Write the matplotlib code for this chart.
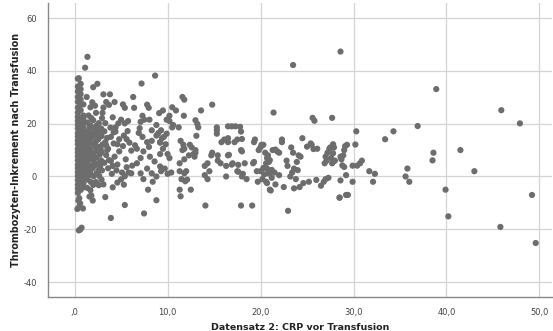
import matplotlib
matplotlib.use("Agg")
import matplotlib.pyplot as plt

# ---- data: (CRP, increment) ----
# dense column near CRP ~ 0.3-1.0
col_x = ([0.35]*27 + [0.65]*25 + [0.95]*20)
col_y = ([-6.2,-4.6,-3.1,-1.4,0.2,1.6,3.1,4.4,6.1,7.6,9.1,10.4,12.2,13.6,15.1,16.4,18.2,19.6,21.1,22.6,24.2,26.1,28.3,30.1,32.2,34.1,37.0] +
         [-5.1,-3.4,-2.1,-0.6,1.1,2.4,4.1,5.6,7.1,8.4,10.2,11.6,13.1,14.4,16.2,17.6,19.1,20.4,22.2,25.1,27.2,29.1,31.2,33.1,35.1] +
         [-4.1,-2.6,-1.1,0.6,2.1,3.6,5.1,6.4,8.2,9.6,11.1,12.4,14.1,15.6,17.1,18.4,20.1,21.6,23.1,27.3])

tail_x = [0.5, 0.4, 0.6, 0.5, 0.9, 0.3, 0.6, 0.75, 0.45, 1.38, 1.13, 0.45, 1.8, 1.95, 1.6]
tail_y = [-8.2, -9.1, -10.2, -11.4, -12.1, -12.3, -20.1, -19.4, -20.4, 45.3, 41.2, 37.2, -7.2, -9.1, -7.6]

low_x = [1.35,1.4,1.45,1.3,1.5,1.4,1.35,1.45,1.4,1.5,1.3,
         1.7,1.75,1.65,1.7,1.8,1.7,1.65,1.75,1.7,1.8,1.7,
         2.0,2.05,1.95,2.0,2.1,2.0,1.95,2.05,2.0,1.9,2.0,
         2.3,2.35,2.25,2.3,2.4,2.3,2.25,2.35,2.3,2.45,
         2.6,2.65,2.55,2.6,2.7,2.6,2.55,2.65,2.6,2.2,
         2.9,2.95,2.85,2.9,3.0,2.9,2.85,2.95,3.1,
         1.2,1.25,1.2,1.3,1.2,1.25,1.55,1.6,1.55,1.6,1.85,1.9,1.85,2.15,2.2,2.15,2.5,2.45,2.75,2.8,3.2,3.3,3.5,3.7,3.9,4.0,4.4,4.6,3.1,3.4]
low_y = [-4.3,-1.2,2.1,5.3,8.2,11.1,14.3,17.2,20.4,23.1,30.1,
         -5.2,-2.1,1.3,4.2,7.1,10.3,13.2,16.1,19.3,22.1,26.2,
         -3.2,0.1,3.3,6.2,9.1,12.3,15.2,18.1,21.3,28.1,33.8,
         -2.1,1.2,4.3,7.1,10.2,13.3,16.1,19.2,24.1,35.1,
         -3.3,0.2,2.2,5.1,8.3,11.2,14.1,17.3,20.2,26.8,
         -1.2,2.3,6.1,9.2,12.1,15.3,18.2,22.1,31.1,
         0.8,3.9,7.0,10.0,13.0,16.0,0.5,6.5,12.5,18.8,2.9,8.9,14.9,4.6,11.5,17.8,9.8,15.5,4.0,10.5,5.2,13.0,10.0,6.2,15.0,1.0,17.0,12.2,-3.0,11.8]

mid1_x = [3.8,3.4,3.7,4.3,3.1,5.2,5.4,3.0,3.3,3.85,3.2,4.2,4.4,4.7,5.0,5.4,5.3,4.8,4.2,3.6,3.4,4.3,4.8,5.2,5.6,5.9,6.1,5.5,4.6,4.1,3.6,4.5,5.1,5.6,5.8,5.0,5.4,6.1,3.3,4.1,3.9,5.4,5.3,4.1,3.5,3.9,4.6,5.7]
mid1_y = [31.1,28.2,27.1,28.2,26.1,27.3,26.0,24.1,20.2,18.5,17.1,16.7,18.6,20.1,21.5,20.1,15.5,14.1,12.5,10.5,8.1,7.5,9.5,11.5,14.1,12.8,9.8,6.5,4.5,4.0,3.1,2.3,1.5,3.5,1.5,-1.1,0.1,1.2,-7.8,-4.1,-15.7,-10.8,-3.1,22.4,14.6,5.9,-2.3,17.2]

mid2_x = [6.3,6.4,7.2,7.8,7.97,8.66,7.3,7.1,7.5,8.05,5.75,6.9,7.3,7.8,8.3,8.8,9.2,9.5,6.7,7.4,7.1,8.1,8.6,9.2,9.7,6.7,7.8,8.3,7.1,8.8,9.3,7.4,10.0,10.4,8.4,9.2,10.0,10.2,9.3,8.3,8.8,9.9,9.5,9.1,7.47,8.8,7.9,6.5,7.0,8.0,9.0,6.2,9.8]
mid2_y = [30.1,26.0,35.2,27.2,26.0,38.2,23.0,20.7,21.5,21.5,21.0,16.5,15.0,13.0,13.5,15.5,13.0,10.5,10.5,9.5,7.0,7.5,5.7,3.8,3.0,5.0,3.0,1.2,1.2,0.0,2.0,-1.0,1.0,1.5,-2.0,8.5,8.5,7.0,17.5,17.5,19.5,21.5,25.0,24.0,-14.0,-9.0,-5.0,11.8,18.3,11.2,16.4,4.1,12.2]

mid3_x = [10.5,10.9,10.2,10.2,11.75,10.6,10.5,11.2,9.9,9.6,9.4,9.2,11.4,11.7,11.8,11.6,12.4,12.6,13.0,13.6,12.8,13.0,12.9,12.3,11.8,11.3,11.3,11.8,12.0,11.5,11.9,12.1,11.3,11.4,12.5,14.07,14.0,14.5,14.3,14.0,14.3,14.7,14.8,15.4,15.4,15.7,16.3,16.3,16.9,17.0,17.5,17.6,16.5,16.6,17.9,18.0,17.6,18.0,18.1,18.3,18.5,17.9,19.1,11.6,11.8,13.0,13.2,13.3,13.1,14.8,15.3,15.3,15.3,16.5,16.9,17.3,17.8,17.9,15.8,16.1,16.5,16.5,17.2,17.5,18.0,19.3,19.4,19.2,19.3,19.6,19.7,19.8,20.0,20.1,20.3]
mid3_y = [26.2,25.0,23.0,21.0,23.0,19.5,18.6,18.6,16.2,15.0,14.5,12.8,13.5,12.0,10.5,10.0,12.0,11.0,10.0,25.0,8.5,9.0,7.5,8.0,6.5,5.0,2.0,1.2,2.0,-1.0,-1.8,-1.2,-5.0,-7.5,-5.0,-11.0,0.5,2.0,-1.0,4.0,5.0,8.0,9.0,8.0,6.0,5.0,0.0,4.0,4.5,5.0,2.0,1.8,8.0,8.2,10.0,9.5,4.4,0.0,1.0,5.0,-1.0,-11.0,-11.0,30.1,29.1,21.3,19.9,18.6,15.4,27.2,18.6,17.5,16.2,19.0,19.0,19.0,18.8,17.0,13.0,14.0,14.5,13.0,13.0,14.0,14.2,13.0,14.0,5.0,5.5,2.0,-2.0,10.0,11.0,12.0,12.0]

hi_x = [21.4,20.5,20.7,20.9,21.0,20.7,20.8,21.2,21.0,21.1,20.6,20.7,21.3,21.6,21.8,22.0,21.5,22.3,22.3,20.8,21.0,22.0,21.6,22.5,21.2,20.4,20.0,20.3,20.2,20.6,
        22.96,23.5,22.8,23.2,23.4,23.6,23.9,24.1,24.3,23.8,23.6,24.2,24.5,23.3,22.9,24.0,25.0,25.4,25.5,25.7,26.1,25.6,25.8,24.6,25.2,26.0,
        26.9,27.0,27.2,27.4,27.5,27.1,27.8,27.6,27.9,28.0,27.7,27.8,26.8,27.3,27.0,26.5,27.7,28.5,28.6,28.9,29.0,29.1,29.3,28.7,28.8,29.0,29.2,28.6,29.4,29.9,
        28.6,23.5,29.9,30.4,30.7,30.9,30.3,30.2,31.7,32.3,32.1,29.2,28.5,27.8]
hi_y = [24.2,9.0,7.0,5.5,6.2,3.0,1.2,2.5,-5.0,-5.3,-2.0,-2.5,10.0,10.2,9.5,9.0,1.5,14.0,13.0,8.0,1.5,0.5,-3.0,-4.0,-0.5,0.8,2.0,3.2,-1.0,5.0,
        -13.0,9.0,6.0,0.0,1.5,3.0,5.5,8.0,7.5,-1.0,-4.5,-4.0,14.5,11.0,4.0,2.4,11.3,12.5,12.0,10.4,10.5,22.2,21.1,-2.5,-2.0,-1.3,
        5.0,7.5,9.0,10.5,11.0,6.0,8.8,7.0,11.0,6.0,5.0,5.5,-2.0,-0.5,-1.0,-3.5,22.2,-8.0,7.5,8.0,10.0,11.5,12.0,6.5,4.2,3.6,0.5,-1.5,-7.0,-2.0,
        47.3,42.2,4.1,4.1,5.0,6.0,17.1,12.1,2.0,1.0,-2.0,-7.0,-8.0,12.2]

far_x = [38.9,45.9,47.9,36.9,34.3,33.4,41.5,38.6,38.5,43.0,35.8,35.6,36.0,39.9,40.2,45.8,49.2,49.6]
far_y = [33.1,25.1,20.1,19.1,17.1,14.1,10.0,9.0,6.1,2.0,3.0,0.0,-2.0,-5.0,-15.1,-19.1,-7.0,-25.2]

crp = col_x + tail_x + low_x + mid1_x + mid2_x + mid3_x + hi_x + far_x
inc = col_y + tail_y + low_y + mid1_y + mid2_y + mid3_y + hi_y + far_y

xticks = [0, 10, 20, 30, 40, 50]
xticklabels = [",0", "10,0", "20,0", "30,0", "40,0", "50,0"]
yticks = [-40, -20, 0, 20, 40, 60]
yticklabels = ["-40", "-20", "0", "20", "40", "60"]

fig = plt.figure(figsize=(5.53, 3.31), dpi=100)
ax = fig.add_axes([0.087, 0.103, 0.912, 0.888])
ax.set_axisbelow(True)
ax.grid(True, color="#d4d4d4", linewidth=0.9)
ax.scatter(crp, inc, s=20, color="#6d6d6d", edgecolors="none", zorder=3)

ax.set_xlim(-2.85, 51.4)
ax.set_ylim(-45.6, 65.7)
ax.set_xticks(xticks)
ax.set_xticklabels(xticklabels)
ax.set_yticks(yticks)
ax.set_yticklabels(yticklabels)
ax.tick_params(length=0, labelsize=6, colors="#444444", pad=8)
for s in ["top", "right"]:
    ax.spines[s].set_visible(False)
for s in ["left", "bottom"]:
    ax.spines[s].set_color("#888888")
    ax.spines[s].set_linewidth(1.0)

ax.set_xlabel("Datensatz 2: CRP vor Transfusion", fontsize=6.8, fontweight="bold", color="#222222", labelpad=4)
ax.set_ylabel("Thrombozyten-Inkrement nach Transfusion", fontsize=6.9, fontweight="bold", color="#222222", labelpad=2)

fig.savefig("out.png", dpi=100)
